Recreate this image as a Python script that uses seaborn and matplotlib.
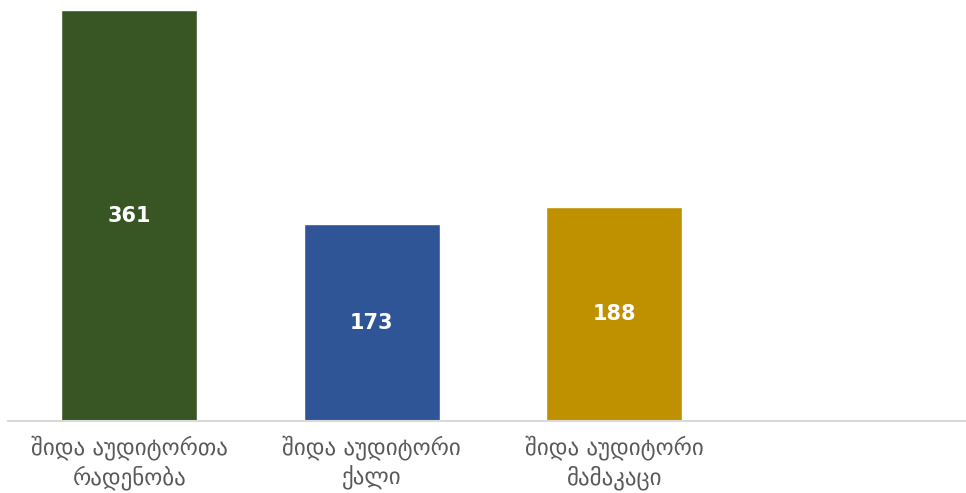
import matplotlib
matplotlib.use("Agg")
import matplotlib.pyplot as plt
import seaborn as sns
import pandas as pd

categories = ["შიდა აუდიტორთა\nრადენობა", "შიდა აუდიტორი\nქალი", "შიდა აუდიტორი\nმამაკაცი"]
values = [361, 173, 188]
colors = ["#375623", "#2F5597", "#BF9000"]

sns.set_theme(style="white")
plt.rcParams["font.family"] = ["DejaVu Sans"]

df = pd.DataFrame({"category": categories, "value": values})

fig = plt.figure(figsize=(9.66, 4.93), dpi=100)
ax = fig.add_axes([8 / 966, 72 / 493, 958 / 966, 421 / 493])

sns.barplot(data=df, x="category", y="value", hue="category",
            palette=colors, width=0.56, saturation=1, legend=False, ax=ax)

ax.set_xlim(-0.5, 3.45)
ax.set_ylim(0, 370)
ax.set_xlabel("")
ax.set_ylabel("")
ax.set_yticks([])
ax.tick_params(axis="x", length=0, pad=10, labelsize=16.5, labelcolor="#595959")
for lbl in ax.get_xticklabels():
    lbl.set_linespacing(1.3)

for side in ["top", "right", "left"]:
    ax.spines[side].set_visible(False)
ax.spines["bottom"].set_color("#D9D9D9")
ax.spines["bottom"].set_linewidth(1.5)

for container in ax.containers:
    ax.bar_label(container, labels=[f"{v:.0f}" for v in container.datavalues],
                 label_type="center", color="white", fontsize=15, fontweight="bold")

fig.savefig("out.png", dpi=100)
